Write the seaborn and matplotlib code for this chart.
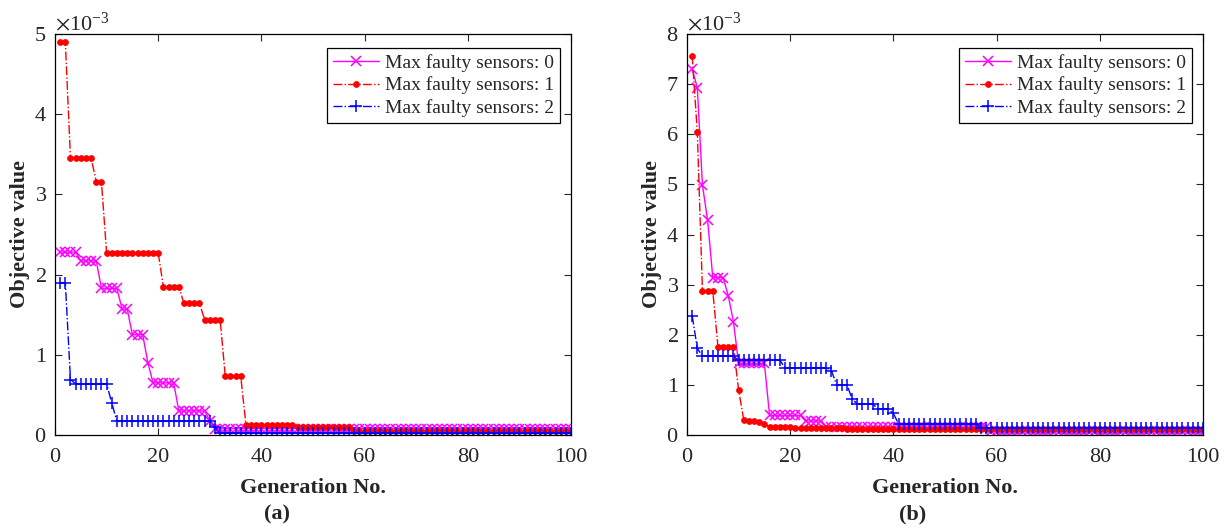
import numpy as np
import pandas as pd
import seaborn as sns
import matplotlib
matplotlib.use("Agg")
import matplotlib.pyplot as plt
from matplotlib.ticker import ScalarFormatter

# ---------------- data (objective values) ----------------
generations = list(range(1, 101))
series_labels = ["Max faulty sensors: 0", "Max faulty sensors: 1", "Max faulty sensors: 2"]

# panel (a)
a_fault0 = ([2.28] * 4 + [2.17] * 4 + [1.83] * 4 + [1.57] * 2 + [1.25] * 3 + [0.90] * 1 +
            [0.65] * 5 + [0.30] * 6 + [0.18] * 1 + [0.08] * 70)
a_fault1 = ([4.90] * 2 + [3.45] * 5 + [3.16] * 2 + [2.27] * 11 + [1.85] * 4 + [1.64] * 4 +
            [1.44] * 4 + [0.73] * 4 + [0.13] * 10 + [0.10] * 11 + [0.05] * 43)
a_fault2 = ([1.90] * 2 + [0.69] * 1 + [0.64] * 7 + [0.40] * 1 + [0.17] * 19 + [0.10] * 1 +
            [0.02] * 69)

# panel (b)
b_fault0 = ([7.30, 6.93, 4.98, 4.28] + [3.14] * 3 + [2.78, 2.26] + [1.43] * 6 + [0.39] * 7 +
            [0.28] * 4 + [0.16] * 32 + [0.07] * 42)
b_fault1 = ([7.57, 6.04] + [2.87] * 3 + [1.76] * 4 + [0.90, 0.30, 0.28, 0.28, 0.26, 0.22, 0.16] +
            [0.15] * 4 + [0.13] * 10 + [0.11] * 70)
b_fault2 = ([2.38, 1.73] + [1.57] * 7 + [1.49] * 9 + [1.34] * 9 + [1.28] + [1.00] * 3 + [0.72] +
            [0.62] * 4 + [0.52] * 3 + [0.43] + [0.22] * 16 + [0.14] * 44)

scale = 1e-3
x_ticks = [0, 20, 40, 60, 80, 100]
panel_tags = ["(a)", "(b)"]

# ---------------- style ----------------
sns.set_style("ticks")
plt.rcParams["font.family"] = ["Liberation Serif", "DejaVu Serif"]
plt.rcParams["mathtext.fontset"] = "stix"
plt.rcParams["xtick.direction"] = "in"
plt.rcParams["ytick.direction"] = "in"

colors = ["#ff00ff", "#ff0000", "#0000ff"]
linestyles = ["-", "-.", "-."]
markers = ["x", "o", "+"]
msizes = [6.5, 4.3, 8]

fig = plt.figure(figsize=(12.28, 5.32), dpi=100)
W, H = 1228, 532
axes_px = [(55, 34, 571, 435), (687, 34, 1203, 435)]
axes = [fig.add_axes([l / W, 1 - b / H, (r - l) / W, (b - t) / H]) for (l, t, r, b) in axes_px]

panels = [(a_fault0, a_fault1, a_fault2, 5), (b_fault0, b_fault1, b_fault2, 8)]

for ax, (s0, s1, s2, ymax) in zip(axes, panels):
    for vals, lab, c, ls, mk, ms in zip([s0, s1, s2], series_labels, colors, linestyles, markers, msizes):
        df = pd.DataFrame({"gen": generations, "val": np.array(vals) * scale})
        sns.lineplot(data=df, x="gen", y="val", ax=ax, color=c, linestyle=ls, marker=mk,
                     markersize=ms, markeredgewidth=1.1 if mk != "o" else 0.5,
                     markeredgecolor=c, markerfacecolor=c, linewidth=1.0, label=lab)
    ax.set_xlim(0, 100)
    ax.set_ylim(0, ymax * scale)
    ax.set_xticks(x_ticks)
    ax.set_yticks(np.arange(0, ymax + 1) * scale)
    fmt = ScalarFormatter(useMathText=True)
    fmt.set_powerlimits((-3, -3))
    ax.yaxis.set_major_formatter(fmt)
    ax.yaxis.get_offset_text().set_fontsize(16)
    ax.tick_params(axis="both", labelsize=16, top=True, right=True, direction="in",
                   length=5, width=0.8)
    ax.tick_params(axis="x", pad=9)
    ax.tick_params(axis="y", pad=6)
    for sp in ax.spines.values():
        sp.set_visible(True)
        sp.set_color("black")
        sp.set_linewidth(0.9)
    ax.set_xlabel("Generation No.", fontsize=16, fontweight="bold", labelpad=8)
    ax.set_ylabel("Objective value", fontsize=16, fontweight="bold", labelpad=3)
    leg = ax.legend(loc="upper right", bbox_to_anchor=(1 - 11 / 516, 1 - 14 / 401),
                    borderaxespad=0, fontsize=14, frameon=True, fancybox=False,
                    edgecolor="black", framealpha=1, borderpad=0.3, labelspacing=0.25,
                    handlelength=2.4, handletextpad=0.3)
    leg.get_frame().set_linewidth(0.9)

fig.text(277 / W, 1 - 514 / H, panel_tags[0], fontsize=16, fontweight="bold", ha="center", va="center")
fig.text(913 / W, 1 - 514 / H, panel_tags[1], fontsize=16, fontweight="bold", ha="center", va="center")

fig.savefig("out.png", dpi=100)
